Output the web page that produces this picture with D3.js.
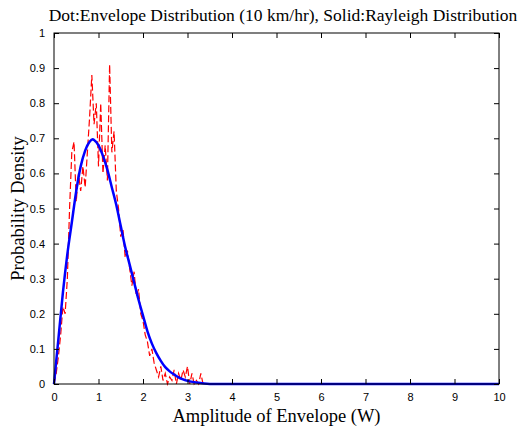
<!DOCTYPE html>
<html>
<head>
<meta charset="utf-8">
<script src="https://cdn.jsdelivr.net/npm/d3@7"></script>
<style>
body { margin: 0; background: #fff; }
</style>
</head>
<body>
<div id="draw"></div>
<script>
// envelope distribution (red dashed)
var envX = [0, 0.05, 0.1, 0.15, 0.2, 0.25, 0.3, 0.35, 0.4, 0.45, 0.5, 0.55, 0.6, 0.65, 0.7, 0.75,
  0.8, 0.85, 0.9, 0.95, 1.0, 1.05, 1.1, 1.15, 1.2, 1.25, 1.3, 1.35, 1.4, 1.45, 1.5, 1.55,
  1.6, 1.65, 1.7, 1.75, 1.8, 1.85, 1.9, 1.95, 2.0, 2.05, 2.1, 2.15, 2.2, 2.25, 2.3, 2.35,
  2.4, 2.45, 2.5, 2.55, 2.6, 2.65, 2.7, 2.75, 2.8, 2.85, 2.9, 2.95, 3.0, 3.05, 3.1, 3.15,
  3.2, 3.25, 3.3, 3.35];
var envY = [0, 0.03, 0.08, 0.14, 0.22, 0.20, 0.30, 0.50, 0.66, 0.69, 0.52, 0.60, 0.55, 0.62, 0.56, 0.66,
  0.76, 0.88, 0.74, 0.80, 0.62, 0.80, 0.60, 0.68, 0.58, 0.91, 0.66, 0.72, 0.55, 0.50, 0.42, 0.44,
  0.36, 0.38, 0.33, 0.28, 0.32, 0.25, 0.27, 0.20, 0.18, 0.14, 0.12, 0.08, 0.10, 0.06, 0.04, 0.02,
  0.05, 0.01, 0.03, 0.00, 0.02, 0.01, 0.04, 0.00, 0.03, 0.01, 0.04, 0.02, 0.05, 0.00, 0.03, 0.00,
  0.01, 0.00, 0.03, 0.00];

// rayleigh distribution (blue solid)
var rayX = [0, 0.1, 0.2, 0.3, 0.4, 0.5, 0.6, 0.7, 0.8, 0.87, 0.9, 1.0, 1.1, 1.2, 1.3, 1.4, 1.5,
  1.6, 1.7, 1.8, 1.9, 2.0, 2.1, 2.2, 2.3, 2.4, 2.5, 2.6, 2.7, 2.8, 2.9, 3.0, 3.2, 3.5, 10];
var rayY = [0, 0.13, 0.26, 0.37, 0.46, 0.55, 0.62, 0.665, 0.69, 0.697, 0.695, 0.68, 0.65, 0.61, 0.56, 0.51, 0.45,
  0.39, 0.34, 0.29, 0.24, 0.195, 0.15, 0.115, 0.088, 0.066, 0.048, 0.036, 0.027, 0.019, 0.013, 0.009, 0.004, 0, 0];

var xTicks = [0, 1, 2, 3, 4, 5, 6, 7, 8, 9, 10];
var yTicks = [0, 0.1, 0.2, 0.3, 0.4, 0.5, 0.6, 0.7, 0.8, 0.9, 1];

var W = 528, H = 434;
// (window.top is read-only, so plot edges get their own names)
var pL = 54, pR = 499, pT = 33, pB = 384;

var svg = d3.select('#draw').append('svg')
    .attr('width', W).attr('height', H)
    .style('display', 'block');

var x = d3.scaleLinear().domain([0, 10]).range([pL, pR]);
var y = d3.scaleLinear().domain([0, 1]).range([pB, pT]);

var line = d3.line()
    .x(function(d){ return x(d[0]); })
    .y(function(d){ return y(d[1]); });

// red dashed envelope
svg.append('path')
    .datum(d3.zip(envX, envY))
    .attr('d', line)
    .attr('fill', 'none')
    .attr('stroke', '#ff0000')
    .attr('stroke-width', 1.2)
    .attr('stroke-dasharray', '7,3');

// blue rayleigh
svg.append('path')
    .datum(d3.zip(rayX, rayY))
    .attr('d', d3.line().curve(d3.curveMonotoneX)
        .x(function(d){ return x(d[0]); })
        .y(function(d){ return y(d[1]); }))
    .attr('fill', 'none')
    .attr('stroke', '#0000ff')
    .attr('stroke-width', 2.5);

// box with inward ticks
function styleAxis(g) {
  g.select('.domain').remove();
  g.selectAll('line').attr('stroke', '#000');
  g.selectAll('text').attr('fill', '#000')
    .style('font-family', 'Liberation Sans, Arial, sans-serif')
    .style('font-size', '11px');
}

svg.append('g').attr('transform', 'translate(0,' + pB + ')')
    .call(d3.axisBottom(x).tickValues(xTicks).tickSize(-5).tickPadding(9).tickFormat(d3.format('d')))
    .call(styleAxis);
svg.append('g').attr('transform', 'translate(0,' + pT + ')')
    .call(d3.axisTop(x).tickValues(xTicks).tickSize(-5).tickFormat(''))
    .call(styleAxis);
svg.append('g').attr('transform', 'translate(' + pL + ',0)')
    .call(d3.axisLeft(y).tickValues(yTicks).tickSize(-5).tickPadding(9)
      .tickFormat(function(d){ return d === 0 || d === 1 ? d : d3.format('.1f')(d); }))
    .call(styleAxis);
svg.append('g').attr('transform', 'translate(' + pR + ',0)')
    .call(d3.axisRight(y).tickValues(yTicks).tickSize(-5).tickFormat(''))
    .call(styleAxis);

svg.append('rect')
    .attr('x', pL).attr('y', pT)
    .attr('width', pR - pL).attr('height', pB - pT)
    .attr('fill', 'none').attr('stroke', '#000').attr('stroke-width', 1);

// texts
var serif = 'Liberation Serif, Times New Roman, serif';
svg.append('text')
    .attr('x', 283).attr('y', 21)
    .attr('text-anchor', 'middle')
    .style('font-family', serif).style('font-size', '17.5px')
    .text('Dot:Envelope Distribution (10 km/hr), Solid:Rayleigh Distribution');

svg.append('text')
    .attr('x', (pL + pR) / 2).attr('y', 422)
    .attr('text-anchor', 'middle')
    .style('font-family', serif).style('font-size', '18.5px')
    .text('Amplitude of Envelope (W)');

svg.append('text')
    .attr('transform', 'translate(24,' + ((pT + pB) / 2) + ') rotate(-90)')
    .attr('text-anchor', 'middle')
    .style('font-family', serif).style('font-size', '18.5px')
    .text('Probability Density');
</script>
</body>
</html>
